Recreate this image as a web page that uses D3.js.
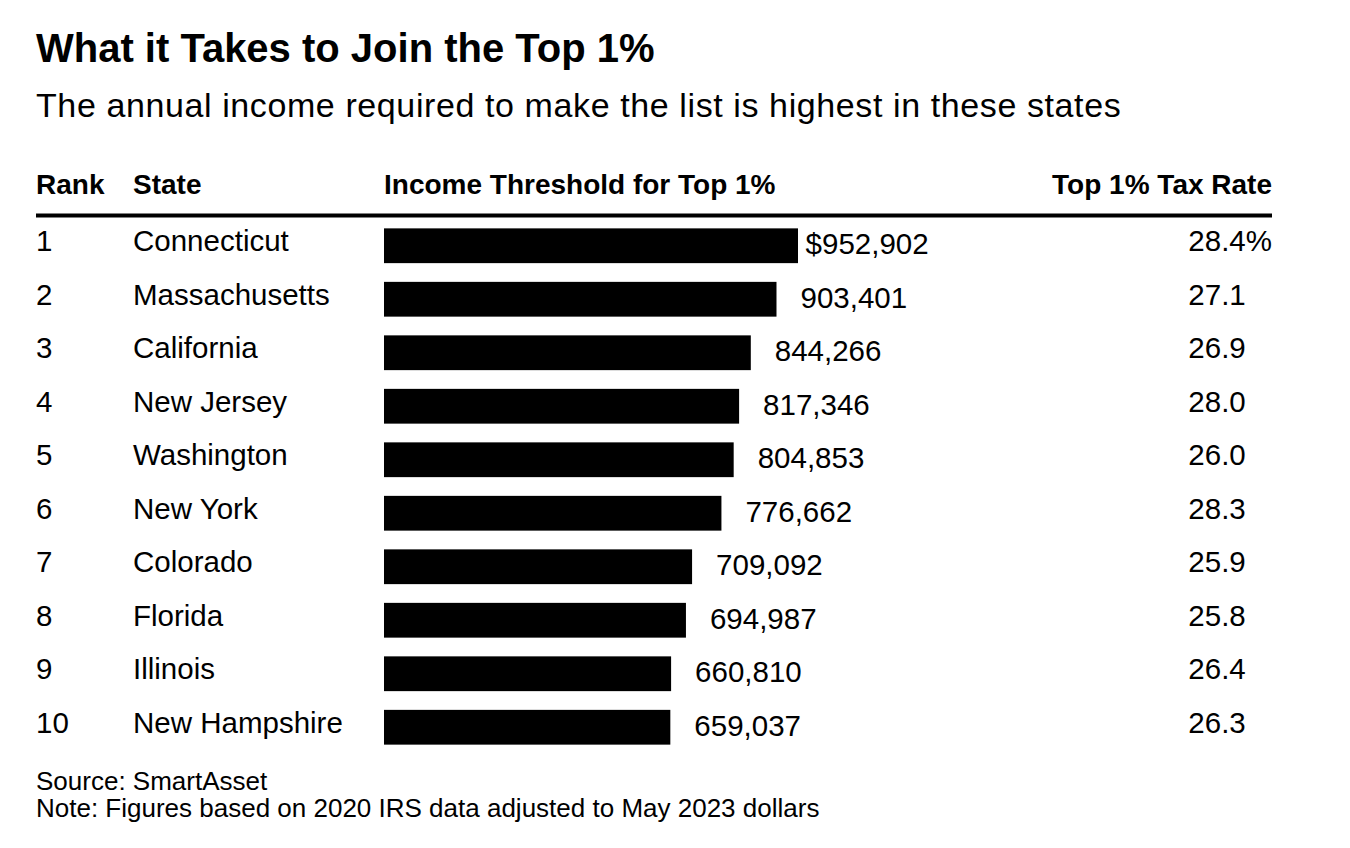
<!DOCTYPE html>
<html>
<head>
<meta charset="utf-8">
<script src="https://cdn.jsdelivr.net/npm/d3@7"></script>
<style>
  body { margin: 0; background: #fff; }
  #chart { width: 1350px; height: 848px; }
  text { font-family: "Liberation Sans", Arial, Helvetica, sans-serif; fill: #000; }
  .title { font-size: 40px; font-weight: bold; }
  .subtitle { font-size: 34px; letter-spacing: 0.6px; }
  .header { font-size: 28px; font-weight: bold; }
  .cell { font-size: 29.5px; }
  .footer { font-size: 26px; }
</style>
</head>
<body>
<div id="chart"></div>
<script>

// data
const ranks = [1, 2, 3, 4, 5, 6, 7, 8, 9, 10];
const states = ["Connecticut", "Massachusetts", "California", "New Jersey", "Washington",
    "New York", "Colorado", "Florida", "Illinois", "New Hampshire"];
const incomes = [952902, 903401, 844266, 817346, 804853, 776662, 709092, 694987, 660810, 659037];
const taxRates = [28.4, 27.1, 26.9, 28.0, 26.0, 28.3, 25.9, 25.8, 26.4, 26.3];
const headers = ["Rank", "State", "Income Threshold for Top 1%", "Top 1% Tax Rate"];

const rows = ranks.map(function(r, i) {
    return {rank: r, state: states[i], income: incomes[i], tax: taxRates[i]};
});

const width = 1350;
const height = 848;

const col = {rank: 36, state: 133, bar: 384, right: 1272};

const svg = d3.select("#chart")
    .append("svg")
    .attr("width", width)
    .attr("height", height);

/*
TITLES
*/
svg.append("text")
    .attr("class", "title")
    .attr("x", 36)
    .attr("y", 62)
    .text("What it Takes to Join the Top 1%");

svg.append("text")
    .attr("class", "subtitle")
    .attr("x", 36)
    .attr("y", 117)
    .text("The annual income required to make the list is highest in these states");

/*
HEADER
*/
const headerX = [col.rank, col.state, col.bar, col.right];
svg.selectAll(".header")
    .data(headers)
    .enter()
    .append("text")
        .attr("class", "header")
        .attr("x", function(d, i) { return headerX[i]; })
        .attr("y", 194)
        .attr("text-anchor", function(d, i) { return i === 3 ? "end" : "start"; })
        .text(function(d) { return d; });

svg.append("rect")
    .attr("x", col.rank)
    .attr("y", 213.5)
    .attr("width", col.right - col.rank)
    .attr("height", 4)
    .attr("fill", "#000");

/*
SCALES
*/
const yScale = d3.scaleBand()
    .domain(ranks)
    .range([219, 754])
    .paddingInner(0.35)
    .paddingOuter(0.175);

const xScale = d3.scaleLinear()
    .domain([0, d3.max(incomes)])
    .range([col.bar, 798]);

const fmt = d3.format(",");

// width of the "%" sign, so the other rates line up on the digits
const probe = svg.append("text").attr("class", "cell").text("%");
const pctW = probe.node().getComputedTextLength();
probe.remove();

/*
ROWS
*/
const row = svg.selectAll(".row")
    .data(rows)
    .enter()
    .append("g")
        .attr("class", "row")
        .attr("transform", function(d) { return `translate(0,${yScale(d.rank)})`; });

const bw = yScale.bandwidth();

row.append("rect")
    .attr("x", xScale(0))
    .attr("y", 0)
    .attr("width", function(d) { return xScale(d.income) - xScale(0); })
    .attr("height", bw)
    .attr("fill", "#000");

row.append("text")
    .attr("class", "cell")
    .attr("x", col.rank)
    .attr("y", bw / 2 + 5.5)
    .text(function(d) { return d.rank; });

row.append("text")
    .attr("class", "cell")
    .attr("x", col.state)
    .attr("y", bw / 2 + 5.5)
    .text(function(d) { return d.state; });

row.append("text")
    .attr("class", "cell")
    .attr("x", function(d) { return xScale(d.income) + 24; })
    .attr("y", bw / 2 + 8.5)
    .text(function(d) { return fmt(d.income); });

// dollar sign hangs in front of the first value
row.filter(function(d, i) { return i === 0; })
    .append("text")
    .attr("class", "cell")
    .attr("x", function(d) { return xScale(d.income) + 24; })
    .attr("y", bw / 2 + 8.5)
    .attr("text-anchor", "end")
    .text("$");

row.append("text")
    .attr("class", "cell")
    .attr("x", function(d, i) { return i === 0 ? col.right : col.right - pctW; })
    .attr("y", bw / 2 + 5.5)
    .attr("text-anchor", "end")
    .text(function(d, i) { return d.tax.toFixed(1) + (i === 0 ? "%" : ""); });

/*
FOOTER
*/
svg.append("text")
    .attr("class", "footer")
    .attr("x", 36)
    .attr("y", 790)
    .text("Source: SmartAsset");

svg.append("text")
    .attr("class", "footer")
    .attr("x", 36)
    .attr("y", 817)
    .text("Note: Figures based on 2020 IRS data adjusted to May 2023 dollars");

</script>
</body>
</html>
